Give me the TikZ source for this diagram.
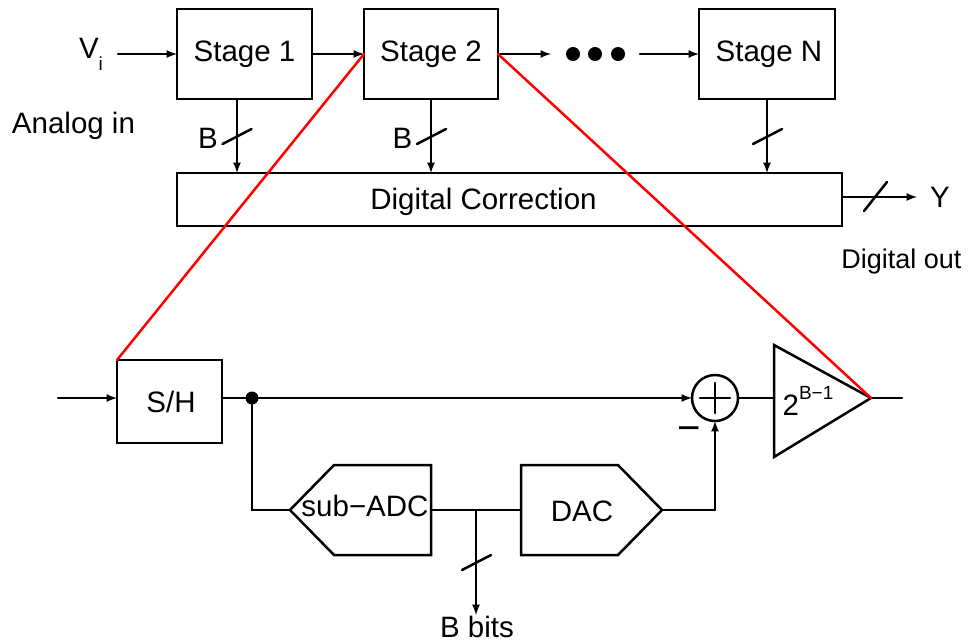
\documentclass[tikz,border=0pt]{standalone}
\usepackage{fontspec}
\setmainfont{Liberation Sans}
\usetikzlibrary{arrows}
\tikzset{
  line/.style={line width=2.5pt,>=latex},
  block/.style={draw,line width=2.5pt,inner sep=0pt,outer sep=0pt},
  txt/.style={inner sep=0pt,outer sep=0pt,anchor=base},
  bigfont/.style={font=\fontsize{29.5}{32}\selectfont},
  spot/.style={circle,fill=black,inner sep=0pt,minimum size=#1}
}
\newcommand{\subfont}{\fontsize{19}{21}\selectfont}
\begin{document}
\begin{tikzpicture}[x=1pt,y=-1pt,bigfont,line cap=round]
  \useasboundingbox (0,0) rectangle (969,641);
  % top row
  \node[block,minimum width=135pt,minimum height=90pt] (stage1) at (244.5,54) {Stage 1};
  \node[block,minimum width=134pt,minimum height=90pt] (stage2) at (431,54) {Stage 2};
  \node[block,minimum width=136pt,minimum height=90pt] (stageN) at (767,54) {\raisebox{-2pt}{\hspace{4pt}Stage N}};
  \node[block,minimum width=665pt,minimum height=53pt] (dc) at (509.5,199.5) {};
  \node[txt] (dctext) at (483.5,209) {Digital Correction};
  \node[txt] (vi) at (91,58) {V\raisebox{-12pt}{\subfont i}};
  \node[txt] (analog) at (73.5,133) {Analog in};
  \node[txt] (b1) at (208,148) {B};
  \node[txt] (b2) at (402.5,148) {B};
  \node[txt] (y) at (940,207) {Y};
  \node[txt,font=\fontsize{27}{30}\selectfont] (digout) at (901.5,268) {Digital out};
  \node[spot=14pt] (dot1) at (573,54) {};
  \node[spot=14pt] (dot2) at (595,54) {};
  \node[spot=14pt] (dot3) at (618,54) {};
  \coordinate (viout) at (118,54);
  \coordinate (s2out) at (551,54);
  \coordinate (sNin) at (640,54);
  \coordinate (s1bit) at (237,99);
  \coordinate (yend) at (917,197);
  \coordinate (dcout) at (842,197);
  \draw[line,->] (viout)--(stage1.west);
  \draw[line,->] (stage1.east)--(stage2.west);
  \draw[line,->] (stage2.east)--(s2out);
  \draw[line,->] (sNin)--(stageN.west);
  \draw[line,->] (s1bit)--(s1bit |- dc.north);
  \draw[line,->] (stage2.south)--(stage2.south |- dc.north);
  \draw[line,->] (stageN.south)--(stageN.south |- dc.north);
  \draw[line,->] (dcout)--(yend);
  \foreach \x in {237,431.5,767.5}
    \draw[line] (\x-14.5,144)--(\x+14.5,129);
  \draw[line] (864,211)--(887,182);
  % lower row
  \node[block,minimum width=105pt,minimum height=83pt] (sh) at (169.5,401.5) {\hspace{3pt}S/H};
  \node[spot=13pt] (tap) at (252,398) {};
  \node[block,circle,minimum size=46pt] (sum) at (715,398) {};
  \draw[line] (700,398)--(730,398);
  \draw[line] (715,383)--(715,413);
  \node[txt] (minus) at (689,441) {\fontsize{40}{40}\selectfont −};
  \draw[line] (774,345)--(871,398)--(774,457)--cycle;
  \coordinate (ampin) at (774,398);
  \coordinate (ampout) at (871,398);
  \node[txt] (gain) at (808,415) {2\raisebox{16pt}{\subfont B−1}};
  \draw[line] (290,510)--(334,465)--(431,465)--(431,555)--(334,555)--cycle;
  \coordinate (adcin) at (290,510);
  \coordinate (adcout) at (431,510);
  \node[txt] (adc) at (365,516) {sub−ADC};
  \draw[line] (521,465)--(618,465)--(662,510)--(618,555)--(521,555)--cycle;
  \coordinate (dacin) at (521,510);
  \coordinate (dacout) at (662,510);
  \node[txt] (dac) at (582,521) {DAC};
  \node[txt] (bbits) at (477,637) {B bits};
  \coordinate (shin) at (58,398);
  \coordinate (ampend) at (902,398);
  \coordinate (branch) at (476,510);
  \coordinate (bitsend) at (476,615);
  \draw[line,->] (shin)--(sh.west |- shin);
  \draw[line] (sh.east |- tap)--(tap);
  \draw[line,->] (tap)--(sum.west);
  \draw[line] (sum.east)--(ampin);
  \draw[line] (ampout)--(ampend);
  \draw[line] (tap)|-(adcin);
  \draw[line] (adcout)--(dacin);
  \draw[line,->] (dacout)-|(sum.south);
  \draw[line,->] (branch)--(bitsend);
  \draw[line] (462,570)--(491,555);
  % zoom lines
  \draw[line,red] (stage2.west)--(sh.north west);
  \draw[line,red] (stage2.east)--(ampout);
\end{tikzpicture}
\end{document}
